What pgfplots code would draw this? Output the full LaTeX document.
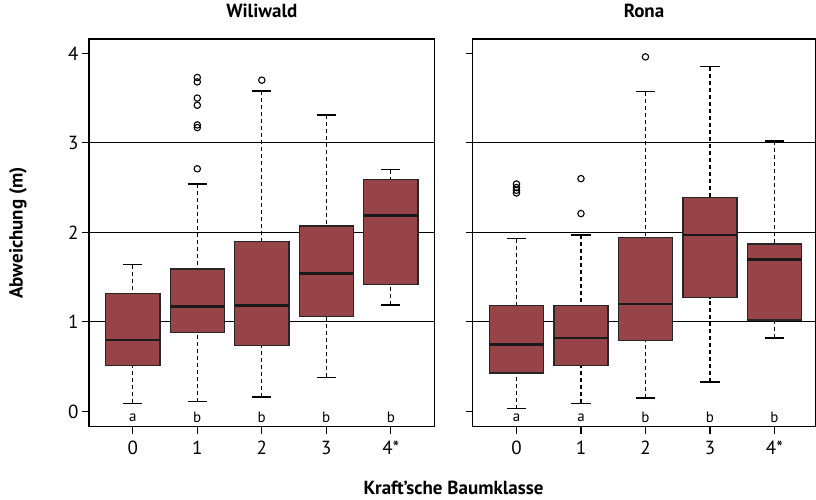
\documentclass[border=0pt]{standalone}
\usepackage{fontspec}
\setmainfont{PT Sans}
\usepackage{pgfplots}
\pgfplotsset{compat=1.18}
\usepgfplotslibrary{statistics}
\definecolor{boxred}{RGB}{151,68,72}
\pgfplotsset{
  mybox/.style={
    boxplot/draw direction=y,
    boxplot/box extend=0.84,
    boxplot/whisker extend=0.3,
    boxplot/every box/.style={draw=black!85, line width=1.3pt, fill=boxred},
    boxplot/every median/.style={line width=2.6pt, black!90},
    boxplot/every whisker/.style={black, line width=1.1pt},
    boxplot/draw/lower whisker/.code={%
      \draw[black, line width=1.1pt, dash pattern=on 4pt off 3pt]
        (boxplot box cs:\pgfplotsboxplotvalue{lower whisker},0.5) --
        (boxplot box cs:\pgfplotsboxplotvalue{lower quartile},0.5);
      \draw[black, line width=1.3pt]
        (boxplot whisker cs:\pgfplotsboxplotvalue{lower whisker},0) --
        (boxplot whisker cs:\pgfplotsboxplotvalue{lower whisker},1);
    },
    boxplot/draw/upper whisker/.code={%
      \draw[black, line width=1.1pt, dash pattern=on 4pt off 3pt]
        (boxplot box cs:\pgfplotsboxplotvalue{upper whisker},0.5) --
        (boxplot box cs:\pgfplotsboxplotvalue{upper quartile},0.5);
      \draw[black, line width=1.3pt]
        (boxplot whisker cs:\pgfplotsboxplotvalue{upper whisker},0) --
        (boxplot whisker cs:\pgfplotsboxplotvalue{upper whisker},1);
    },
    mark=o, mark size=3.2pt, mark options={black, line width=1.1pt, solid},
    solid,
  },
  panel/.style={
    scale only axis, height=388pt,
    anchor=south west,
    xmin=-0.68, ymin=-0.17, ymax=4.16,
    xtick={0,1,2,3,4}, xticklabels={0,1,2,3,4*},
    ytick={0,1,2,3,4},
    tick align=outside, xtick pos=bottom, ytick pos=left,
    major tick length=7pt,
    tick style={black, line width=1.1pt},
    axis line style={line width=1.3pt},
    extra y ticks={1,2,3},
    extra y tick labels={},
    extra y tick style={grid=major, major tick length=0pt},
    grid style={black, line width=0.9pt},
    tick label style={font=\fontsize{19}{21}\selectfont},
    /pgf/number format/assume math mode=true,
    xticklabel style={yshift=-4pt},
    title style={at={(0.5,1)}, anchor=center, yshift=22pt, font=\fontsize{19}{21}\selectfont\bfseries},
    clip=false,
  },
}
\newcommand{\lett}[2]{\node[font=\fontsize{15}{17}\selectfont] at (axis cs:#1,-0.07) {#2};}
\begin{document}
\begin{tikzpicture}
\path (0pt,0pt) rectangle (816pt,500pt);
% Left panel
\begin{axis}[panel, at={(89pt,73pt)}, width=346pt, xmax=4.68, title={Wiliwald}]
\addplot[mybox, boxplot prepared={draw position=0, lower whisker=0.09, lower quartile=0.51, median=0.80, upper quartile=1.32, upper whisker=1.64}] coordinates {};
\addplot[mybox, boxplot prepared={draw position=1, lower whisker=0.11, lower quartile=0.88, median=1.17, upper quartile=1.59, upper whisker=2.54}] table[row sep=\\, y index=0] {2.71\\3.17\\3.20\\3.42\\3.50\\3.68\\3.73\\};
\addplot[mybox, boxplot prepared={draw position=2, lower whisker=0.16, lower quartile=0.74, median=1.18, upper quartile=1.90, upper whisker=3.58}] table[row sep=\\, y index=0] {3.70\\};
\addplot[mybox, boxplot prepared={draw position=3, lower whisker=0.38, lower quartile=1.06, median=1.54, upper quartile=2.07, upper whisker=3.31}] coordinates {};
\addplot[mybox, boxplot prepared={draw position=4, lower whisker=1.19, lower quartile=1.42, median=2.19, upper quartile=2.59, upper whisker=2.70}] coordinates {};
\lett{0}{a}\lett{1}{b}\lett{2}{b}\lett{3}{b}\lett{4}{b}
\end{axis}
% Right panel
\begin{axis}[panel, at={(473pt,73pt)}, width=343pt, xmax=4.634, title={Rona}, yticklabels={}]
\addplot[mybox, boxplot prepared={draw position=0, lower whisker=0.03, lower quartile=0.43, median=0.75, upper quartile=1.18, upper whisker=1.93}] table[row sep=\\, y index=0] {2.44\\2.47\\2.50\\2.54\\};
\addplot[mybox, boxplot prepared={draw position=1, lower whisker=0.09, lower quartile=0.51, median=0.82, upper quartile=1.18, upper whisker=1.97}] table[row sep=\\, y index=0] {2.21\\2.60\\};
\addplot[mybox, boxplot prepared={draw position=2, lower whisker=0.15, lower quartile=0.79, median=1.20, upper quartile=1.94, upper whisker=3.57}] table[row sep=\\, y index=0] {3.96\\};
\addplot[mybox, boxplot prepared={draw position=3, lower whisker=0.33, lower quartile=1.27, median=1.97, upper quartile=2.39, upper whisker=3.85}] coordinates {};
\addplot[mybox, boxplot prepared={draw position=4, lower whisker=0.82, lower quartile=1.02, median=1.70, upper quartile=1.87, upper whisker=3.02}] coordinates {};
\lett{0}{a}\lett{1}{a}\lett{2}{b}\lett{3}{b}\lett{4}{b}
\end{axis}
\node[rotate=90, font=\fontsize{19}{21}\selectfont\bfseries] at (18pt,267pt) {Abweichung (m)};
\node[font=\fontsize{19}{21}\selectfont\bfseries] at (454pt,12pt) {Kraft’sche Baumklasse};
\end{tikzpicture}
\end{document}
